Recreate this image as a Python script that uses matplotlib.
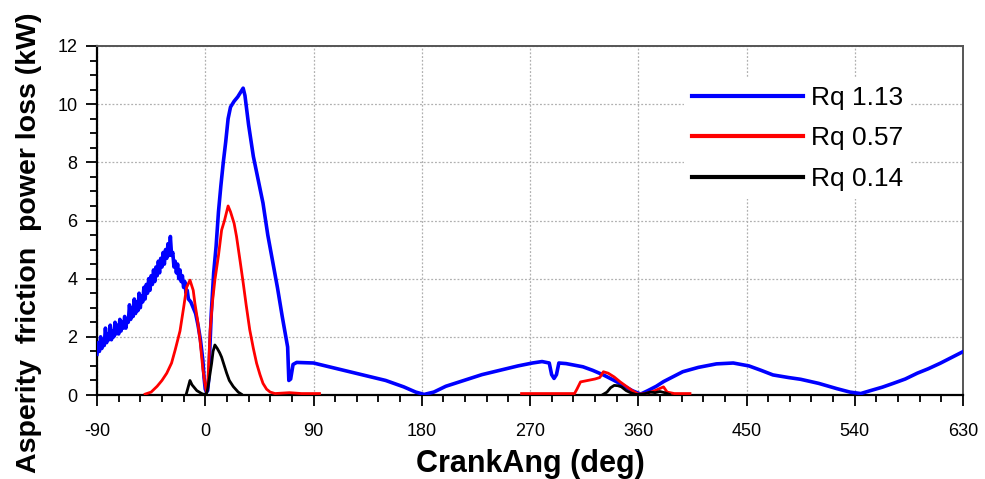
import numpy as np
import matplotlib
matplotlib.use("Agg")
import matplotlib.pyplot as plt
from matplotlib.ticker import MultipleLocator

plt.rcParams['font.family'] = ['Liberation Sans', 'DejaVu Sans']
plt.rcParams['axes.unicode_minus'] = False

# ---- data ----
blue_x = [-90, -89, -88, -87, -86, -85, -84, -83, -82, -81, -80, -79, -78, -77, -76, -75,
          -74, -73, -72, -71, -70, -69, -68, -67, -66, -65, -64, -63, -62, -61, -60, -59,
          -58, -57, -56, -55, -54, -53, -52, -51, -50, -49, -48, -47, -46, -45, -44, -43,
          -42, -41, -40, -39, -38, -37, -36, -35, -34, -33, -32, -31, -30, -29, -28,
          -27, -26, -25, -24, -23, -22, -21, -20, -19, -18, -17, -16, -15, -14, -12, -10,
          -8, -6, -4, -2, -1, 0, 1, 2, 3, 4, 5,
          7, 9, 11, 13, 15, 17, 19, 21, 24, 27, 30, 31.5, 33, 36, 40, 44, 48, 52, 56, 60, 64,
          68.5, 69.5, 71, 73, 76, 90, 105, 120, 135, 150, 165, 175, 182, 190, 200, 215, 230,
          245, 260, 272, 280, 286, 288, 290, 292, 294, 300, 314, 322, 331, 340, 347, 355, 362,
          368, 375, 381, 390, 397, 410, 425, 439, 452, 462, 472, 485, 495, 510, 525, 536, 545,
          553, 563, 572, 582, 592, 601, 611, 620, 630]
blue_y = [1.4, 1.8, 1.5, 2.0, 1.6, 1.9, 1.7, 2.3, 1.8, 2.1, 1.9, 2.4, 1.9, 2.2, 2.0, 2.5,
          2.1, 2.4, 2.1, 2.6, 2.2, 2.5, 2.3, 2.7, 2.3, 2.6, 2.5, 3.1, 2.6, 3.0, 2.7, 3.3,
          2.8, 3.2, 2.9, 3.5, 3.0, 3.4, 3.2, 3.7, 3.3, 3.8, 3.5, 4.0, 3.6, 4.1, 3.8, 4.3,
          3.9, 4.4, 4.1, 4.6, 4.2, 4.7, 4.4, 4.9, 4.5, 5.0, 4.7, 5.2, 4.8, 5.45, 4.8,
          4.9, 4.4, 4.6, 4.2, 4.5, 4.0, 4.3, 3.9, 4.1, 3.7, 3.9, 3.5, 3.6, 3.3, 3.2, 3.0,
          2.8, 2.4, 1.9, 1.2, 0.6, 0.2, 0.1, 0.15, 0.6, 1.8, 2.8,
          4.2, 5.1, 6.3, 7.2, 8.0, 8.7, 9.5, 9.9, 10.1, 10.25, 10.45, 10.55, 10.3, 9.3, 8.2, 7.4, 6.6, 5.5, 4.6, 3.7, 2.7,
          1.65, 0.5, 0.55, 1.05, 1.12, 1.1, 0.95, 0.8, 0.65, 0.5, 0.28, 0.1, 0.02, 0.1, 0.3, 0.5, 0.7,
          0.85, 1.0, 1.1, 1.15, 1.1, 0.7, 0.57, 0.7, 1.1, 1.08, 0.97, 0.85, 0.69, 0.5, 0.34, 0.15, 0.03,
          0.15, 0.3, 0.46, 0.65, 0.8, 0.95, 1.07, 1.1, 1.0, 0.85, 0.69, 0.6, 0.54, 0.4, 0.22, 0.1, 0.05,
          0.15, 0.27, 0.4, 0.55, 0.75, 0.9, 1.09, 1.28, 1.49]

red_x = [-50, -45, -40, -36, -32, -28, -25, -21, -18, -15.5, -12.7, -10, -8.6, -6.5, -4.4, -2,
         -0.3, 1, 2, 3, 4, 6, 8, 11, 13.6, 16, 19, 21, 24, 26, 29, 31.6, 34, 37, 40, 42.7, 45.5,
         48, 51, 54, 58, 70, 80, 95, None,
         263, 280, 300, 307, 309, 312, 318, 324, 328, 331, 335, 340, 345, 350, 355, 360, 366,
         372, 375, 381, 384, 390, 403]
red_y = [0.03, 0.1, 0.3, 0.5, 0.75, 1.1, 1.55, 2.2, 3.0, 3.7, 3.95, 3.6, 3.15, 2.6, 1.9, 0.9,
         0.4, 0.1, 0.3, 1.2, 2.2, 3.2, 3.95, 4.8, 5.67, 6.0, 6.5, 6.3, 5.9, 5.45, 4.6, 3.84, 3.1, 2.24, 1.6, 1.09, 0.7,
         0.4, 0.2, 0.1, 0.05, 0.08, 0.05, 0.05, None,
         0.05, 0.05, 0.05, 0.05, 0.2, 0.45, 0.5, 0.55, 0.6, 0.8, 0.75, 0.62, 0.45, 0.3, 0.15, 0.03, 0.05,
         0.12, 0.17, 0.28, 0.1, 0.05, 0.05]

black_x = [-16, -14, -12.7, -11, -9, -7, -5, -3, -1, 1, 2, 3.5, 5.3, 6.5, 8, 10, 12, 13.6, 15.5,
           17.8, 20, 23.3, 27.4, 30, None,
           330, 334, 337, 340, 343, 346, 350, 354, 358, 362, 366, 370, 374, 378, 382, 386]
black_y = [0.0, 0.3, 0.5, 0.35, 0.25, 0.15, 0.1, 0.05, 0.02, 0.05, 0.2, 0.6, 1.09, 1.5, 1.72, 1.6, 1.45, 1.3, 1.05,
           0.75, 0.5, 0.29, 0.1, 0.03, None,
           0.0, 0.1, 0.25, 0.33, 0.32, 0.28, 0.15, 0.07, 0.02, 0.02, 0.05, 0.1, 0.08, 0.12, 0.08, 0.02]

labels = ['Rq 1.13', 'Rq 0.57', 'Rq 0.14']
colors = ['#0000ff', '#ff0000', '#000000']
xticks = [-90, 0, 90, 180, 270, 360, 450, 540, 630]
yticks = [0, 2, 4, 6, 8, 10, 12]


def arr(v):
    return np.array([np.nan if a is None else a for a in v], dtype=float)


fig = plt.figure(figsize=(9.85, 4.79), dpi=100)
ax = fig.add_axes([97/985, 1-395/479, (963-97)/985, (395-46)/479])

ax.plot(arr(blue_x), arr(blue_y), color=colors[0], lw=2.6, label=labels[0], zorder=3)
ax.plot(arr(red_x), arr(red_y), color=colors[1], lw=2.0, label=labels[1], zorder=4)
ax.plot(arr(black_x), arr(black_y), color=colors[2], lw=2.0, label=labels[2], zorder=5)

ax.set_xlim(-90, 630)
ax.set_ylim(0, 12)
ax.set_xticks(xticks)
ax.set_yticks(yticks)
ax.xaxis.set_minor_locator(MultipleLocator(18))
ax.yaxis.set_minor_locator(MultipleLocator(0.5))
ax.tick_params(which='major', direction='out', length=8, width=1.3, labelsize=13,
               top=False, right=False)
ax.tick_params(axis='x', which='major', pad=12)
ax.tick_params(axis='y', which='major', pad=6)
ax.tick_params(which='minor', direction='out', length=5, width=1.3, top=False, right=False)
ax.grid(True, which='major', linestyle=(0, (1.5, 1.5)), color='#b0b0b0', lw=0.9, zorder=0)
ax.set_axisbelow(True)

for s in ['left', 'bottom']:
    ax.spines[s].set_linewidth(1.6)
    ax.spines[s].set_color('black')
for s in ['top', 'right']:
    ax.spines[s].set_linewidth(1.4)
    ax.spines[s].set_color('#555555')

ax.set_xlabel('CrankAng (deg)', fontsize=22, fontweight='bold')
ax.xaxis.set_label_coords(0.5, -(449-395)/349)
ax.set_ylabel('Asperity  friction  power loss (kW)', fontsize=20.5, fontweight='bold')
ax.yaxis.set_label_coords((42-97)/866, (395-243)/349)

leg = ax.legend(loc='upper left', bbox_to_anchor=(0.6628, 0.9456), fontsize=19,
                frameon=True, facecolor='white', edgecolor='none', framealpha=1,
                handlelength=4.2, handletextpad=0.3, labelspacing=0.62, borderpad=0.3,
                fancybox=False)
for h in leg.get_lines():
    h.set_linewidth(3)

fig.savefig('out.png', dpi=100)
